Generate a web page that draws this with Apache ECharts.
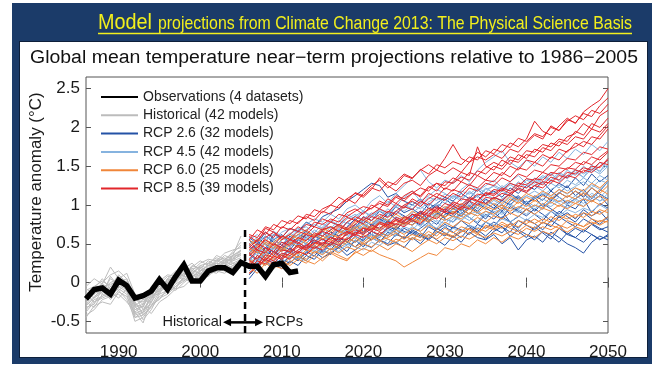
<!DOCTYPE html>
<html><head><meta charset="utf-8">
<script src="https://cdn.jsdelivr.net/npm/echarts@6/dist/echarts.min.js"></script>
<style>
html,body{margin:0;padding:0;background:#fff;}
#wrap{position:relative;width:655px;height:366px;overflow:hidden;background:#fff;}
#navy{position:absolute;left:12px;top:3px;width:640px;height:361px;background:#1b3b69;}
#panel{position:absolute;left:19px;top:41px;width:627px;height:315px;background:#fff;border:1px solid #0d1f3a;}
#c{position:absolute;left:0;top:0;width:655px;height:366px;}
</style>
</head><body>
<div id="wrap"><div id="navy"></div><div id="panel"></div><div id="c"></div></div>
<script>
// ---------- DATA ----------
const histYears = [1986,1987,1988,1989,1990,1991,1992,1993,1994,1995,1996,1997,1998,1999,2000,2001,2002,2003,2004,2005];
const obsYears = [1986,1987,1988,1989,1990,1991,1992,1993,1994,1995,1996,1997,1998,1999,2000,2001,2002,2003,2004,2005,2006,2007,2008,2009,2010,2011,2012];
const rcpYears = [2006,2007,2008,2009,2010,2011,2012,2013,2014,2015,2016,2017,2018,2019,2020,2021,2022,2023,2024,2025,2026,2027,2028,2029,2030,2031,2032,2033,2034,2035,2036,2037,2038,2039,2040,2041,2042,2043,2044,2045,2046,2047,2048,2049,2050];

const observations = [-0.21,-0.09,-0.07,-0.15,0.03,-0.04,-0.20,-0.17,-0.11,0.04,-0.09,0.08,0.23,0.02,0.02,0.15,0.19,0.19,0.13,0.26,0.21,0.21,0.08,0.23,0.25,0.13,0.15];

const historicalRuns = [
 [-0.22,-0.15,-0.05,-0.10,0.02,-0.08,-0.35,-0.30,-0.12,-0.05,0.02,0.05,0.12,0.08,0.15,0.22,0.20,0.28,0.30,0.35],
 [-0.30,-0.20,-0.12,0.05,-0.02,-0.10,-0.42,-0.38,-0.20,-0.08,-0.05,0.08,0.05,0.15,0.12,0.18,0.25,0.22,0.35,0.40],
 [-0.10,-0.05,0.02,-0.05,0.10,0.00,-0.25,-0.40,-0.25,-0.10,0.05,0.00,0.10,0.18,0.20,0.15,0.28,0.32,0.25,0.30],
 [-0.38,-0.25,-0.20,-0.15,-0.08,-0.15,-0.50,-0.45,-0.30,-0.18,-0.12,-0.02,0.05,0.02,0.10,0.12,0.18,0.15,0.22,0.25],
 [-0.05,0.05,-0.02,0.20,0.05,-0.02,-0.20,-0.28,-0.05,0.02,0.10,0.08,0.20,0.15,0.25,0.30,0.28,0.38,0.42,0.45],
 [-0.25,-0.32,-0.15,-0.20,-0.05,-0.12,-0.30,-0.48,-0.35,-0.15,-0.10,-0.05,0.02,0.10,0.05,0.15,0.12,0.20,0.25,0.20],
 [-0.15,-0.10,-0.08,0.00,0.05,0.12,-0.15,-0.22,-0.18,0.00,-0.02,0.12,0.15,0.10,0.22,0.25,0.32,0.28,0.40,0.52],
 [-0.45,-0.30,-0.25,-0.28,-0.12,-0.18,-0.40,-0.35,-0.28,-0.22,-0.08,-0.10,0.00,0.08,0.12,0.08,0.20,0.25,0.18,0.28],
 [-0.12,-0.20,-0.05,-0.02,0.00,0.05,-0.28,-0.32,-0.10,-0.12,0.05,0.15,0.08,0.22,0.18,0.28,0.22,0.30,0.35,0.60],
 [-0.28,-0.18,-0.10,-0.12,-0.20,-0.08,-0.38,-0.52,-0.22,-0.05,0.00,0.02,0.18,0.12,0.08,0.20,0.30,0.25,0.32,0.38],
 [-0.18,-0.08,0.05,-0.08,0.02,-0.05,-0.22,-0.25,-0.15,-0.02,0.08,0.05,0.10,0.20,0.28,0.22,0.25,0.35,0.30,0.42],
 [-0.35,-0.22,-0.18,-0.05,-0.10,-0.22,-0.45,-0.42,-0.32,-0.20,-0.15,-0.05,0.05,0.00,0.15,0.18,0.15,0.22,0.28,0.32],
 [-0.20,-0.12,-0.15,0.08,-0.05,-0.02,-0.32,-0.28,-0.18,-0.10,0.00,0.10,0.02,0.12,0.20,0.15,0.22,0.30,0.28,0.38],
 [-0.42,-0.35,-0.22,-0.18,-0.15,-0.25,-0.38,-0.30,-0.40,-0.25,-0.18,-0.08,-0.05,0.05,0.00,0.10,0.15,0.12,0.20,0.22],
 [-0.08,-0.15,0.00,0.10,0.15,0.05,-0.18,-0.35,-0.20,-0.08,0.02,0.12,0.18,0.25,0.15,0.22,0.35,0.30,0.38,0.48],
 [-0.32,-0.28,-0.08,-0.22,-0.10,-0.02,-0.25,-0.42,-0.30,-0.12,-0.05,-0.08,0.08,0.05,0.18,0.12,0.18,0.28,0.22,0.30],
 [-0.15,-0.25,-0.18,-0.12,0.08,-0.10,-0.45,-0.38,-0.15,-0.15,0.05,0.02,0.12,0.18,0.10,0.25,0.20,0.26,0.35,0.42],
 [-0.26,-0.10,-0.02,-0.08,-0.02,0.02,-0.30,-0.22,-0.26,-0.02,-0.06,0.06,0.14,0.12,0.22,0.18,0.28,0.24,0.34,0.36]
];

const rcp26Runs = [
 [0.45,0.55,0.40,0.62,0.58, 0.70,0.66,0.78,0.72,0.85, 0.90,0.95,1.05,1.12,1.20, 1.28,1.25,1.10,1.15,1.05, 1.00,1.08,0.95,1.02,1.10, 1.05,1.15,1.08,1.20,1.12, 1.18,1.10,1.22,1.15,1.25, 1.20,1.30,1.18,1.28,1.22, 1.35,1.25,1.40,1.30,1.38],
 [0.15,0.25,0.10,0.22,0.30, 0.25,0.35,0.28,0.40,0.32, 0.38,0.45,0.35,0.42,0.50, 0.45,0.55,0.48,0.52,0.45, 0.58,0.50,0.62,0.55,0.48, 0.60,0.52,0.65,0.58,0.55, 0.62,0.50,0.58,0.42,0.55, 0.60,0.52,0.65,0.58,0.50, 0.45,0.38,0.52,0.60,0.55],
 [0.30,0.22,0.40,0.35,0.45, 0.38,0.50,0.42,0.55,0.48, 0.60,0.52,0.65,0.70,0.62, 0.75,0.68,0.80,0.72,0.85, 0.78,0.90,0.82,0.75,0.88, 0.92,0.85,0.98,0.90,0.82, 0.95,1.00,0.88,0.96,1.05, 0.92,1.02,0.95,0.88,1.00, 0.95,1.08,0.90,1.02,0.96],
 [0.55,0.42,0.50,0.38,0.48, 0.60,0.52,0.45,0.58,0.65, 0.55,0.68,0.62,0.75,0.66, 0.72,0.82,0.76,0.68,0.80, 0.88,0.80,0.92,1.00,0.90, 0.85,0.95,0.88,1.02,0.96, 0.90,0.82,0.98,0.92,0.86, 0.95,0.88,0.80,0.92,0.85, 0.78,0.90,0.82,0.75,0.85],
 [0.20,0.35,0.28,0.18,0.32, 0.42,0.30,0.38,0.48,0.40, 0.50,0.45,0.58,0.52,0.60, 0.55,0.65,0.60,0.72,0.66, 0.62,0.70,0.78,0.68,0.75, 0.70,0.80,0.72,0.65,0.78, 0.72,0.85,0.78,0.70,0.82, 0.76,0.68,0.80,0.74,0.62, 0.70,0.65,0.75,0.68,0.72],
 [0.38,0.48,0.60,0.52,0.42, 0.55,0.62,0.58,0.50,0.68, 0.72,0.65,0.78,0.70,0.85, 0.80,0.92,0.85,0.98,0.90, 0.95,0.88,1.02,0.96,1.08, 1.00,0.92,1.05,1.12,1.02, 1.10,1.05,1.15,1.08,1.00, 1.12,1.06,1.18,1.10,1.02, 1.08,1.15,1.05,1.12,1.00],
 [0.10,0.20,0.30,0.25,0.18, 0.28,0.22,0.35,0.30,0.42, 0.36,0.48,0.40,0.55,0.46, 0.58,0.52,0.65,0.60,0.70, 0.64,0.58,0.72,0.66,0.60, 0.72,0.68,0.62,0.75,0.70, 0.78,0.72,0.65,0.80,0.74, 0.68,0.78,0.72,0.85,0.78, 0.72,0.82,0.76,0.70,0.65],
 [0.48,0.38,0.45,0.55,0.62, 0.50,0.58,0.66,0.60,0.55, 0.65,0.60,0.72,0.82,0.75, 0.68,0.78,0.90,0.82,0.75, 0.85,0.92,0.80,0.88,0.95, 0.88,0.98,1.05,0.95,1.08, 1.00,0.92,1.05,1.12,1.02, 1.10,0.98,1.05,1.15,1.25, 1.12,1.20,1.08,1.18,1.30],
 [0.28,0.40,0.32,0.45,0.52, 0.46,0.55,0.62,0.52,0.60, 0.68,0.75,0.66,0.72,0.80, 0.74,0.85,0.78,0.92,0.86, 0.80,0.74,0.85,0.92,0.82, 0.78,0.90,0.84,0.76,0.88, 0.82,0.92,0.78,0.85,0.95, 0.88,0.80,0.92,0.84,0.90, 0.82,0.94,0.86,0.92,0.80],
 [0.58,0.50,0.65,0.56,0.48, 0.42,0.55,0.50,0.62,0.56, 0.48,0.58,0.52,0.64,0.70, 0.62,0.58,0.70,0.65,0.56, 0.68,0.62,0.56,0.70,0.64, 0.58,0.66,0.74,0.68,0.60, 0.70,0.64,0.76,0.66,0.58, 0.72,0.64,0.56,0.70,0.62, 0.58,0.68,0.62,0.55,0.62],
 [0.05,0.18,0.12,0.28,0.22, 0.35,0.28,0.40,0.34,0.48, 0.42,0.55,0.48,0.60,0.54, 0.66,0.60,0.72,0.68,0.78, 0.74,0.85,0.78,0.90,0.84, 0.96,0.88,1.00,0.92,1.02, 0.96,1.06,1.00,1.10,1.02, 1.08,1.14,1.06,1.16,1.10, 1.18,1.10,1.22,1.14,1.08],
 [0.36,0.28,0.45,0.40,0.35, 0.44,0.38,0.50,0.45,0.38, 0.50,0.58,0.52,0.46,0.56, 0.62,0.55,0.50,0.62,0.58, 0.66,0.60,0.55,0.64,0.72, 0.65,0.58,0.70,0.64,0.56, 0.66,0.72,0.60,0.68,0.62, 0.55,0.66,0.60,0.52,0.64, 0.58,0.52,0.62,0.56,0.60]
];

const rcp45Runs = [
 [0.35,0.45,0.38,0.50,0.58, 0.52,0.62,0.55,0.68,0.60, 0.72,0.66,0.78,0.70,0.82, 0.90,0.85,0.95,0.88,1.00, 0.95,1.05,0.98,1.10,1.02, 1.12,1.05,1.18,1.10,1.22, 1.15,1.25,1.18,1.30,1.22, 1.35,1.28,1.40,1.32,1.45, 1.38,1.50,1.42,1.55,1.48],
 [0.25,0.18,0.30,0.38,0.32, 0.42,0.36,0.45,0.40,0.50, 0.46,0.55,0.48,0.60,0.52, 0.62,0.58,0.68,0.64,0.72, 0.68,0.78,0.72,0.80,0.76, 0.85,0.80,0.88,0.92,0.86, 0.95,0.90,1.00,0.94,1.05, 0.98,1.08,1.02,1.10,1.04, 1.12,1.06,1.15,1.10,1.20],
 [0.50,0.58,0.48,0.42,0.55, 0.62,0.70,0.65,0.58,0.72, 0.80,0.74,0.88,0.82,0.92, 0.86,0.96,1.05,0.98,1.10, 1.18,1.05,1.12,1.20,1.15, 1.08,1.20,1.28,1.18,1.25, 1.32,1.22,1.30,1.38,1.28, 1.25,1.35,1.42,1.30,1.38, 1.45,1.35,1.52,1.42,1.60],
 [0.15,0.28,0.22,0.32,0.25, 0.35,0.30,0.40,0.48,0.42, 0.38,0.50,0.45,0.55,0.48, 0.58,0.52,0.62,0.70,0.64, 0.72,0.66,0.76,0.70,0.82, 0.78,0.86,0.80,0.90,0.85, 0.92,0.88,0.96,0.90,1.00, 0.95,1.02,0.98,1.06,1.00, 1.08,1.02,1.12,1.05,1.15],
 [0.42,0.35,0.52,0.45,0.40, 0.48,0.56,0.50,0.62,0.55, 0.60,0.68,0.62,0.72,0.78, 0.70,0.80,0.75,0.85,0.80, 0.88,0.82,0.92,0.86,0.96, 0.90,1.00,0.94,1.04,0.98, 1.06,1.00,1.10,1.04,1.12, 1.08,1.16,1.10,1.20,1.14, 1.22,1.16,1.26,1.20,1.30],
 [0.40,0.52,0.60,0.55,0.65, 0.70,0.64,0.75,0.82,0.78, 0.88,0.82,0.95,1.00,0.92, 1.05,1.12,1.02,1.15,1.25, 1.35,1.45,1.30,1.22,1.32, 1.28,1.38,1.30,1.45,1.55, 1.62,1.70,1.55,1.48,1.58, 1.50,1.62,1.55,1.68,1.60, 1.72,1.65,1.78,1.70,1.82],
 [0.28,0.40,0.35,0.28,0.38, 0.30,0.42,0.50,0.45,0.38, 0.52,0.48,0.58,0.65,0.56, 0.62,0.72,0.66,0.60,0.74, 0.80,0.72,0.85,0.78,0.70, 0.82,0.90,0.84,0.78,0.92, 0.86,0.95,1.02,0.94,0.88, 1.00,0.94,1.08,1.02,0.96, 1.06,0.98,1.12,1.05,1.10],
 [0.32,0.25,0.42,0.48,0.40, 0.55,0.48,0.58,0.52,0.65, 0.58,0.70,0.64,0.76,0.70, 0.80,0.74,0.86,0.92,0.84, 0.90,0.98,0.92,1.02,0.96, 1.05,0.98,1.10,1.02,1.14, 1.08,1.18,1.12,1.22,1.16, 1.25,1.18,1.28,1.22,1.32, 1.26,1.35,1.28,1.38,1.32],
 [0.46,0.40,0.55,0.62,0.56, 0.64,0.58,0.68,0.75,0.70, 0.78,0.72,0.82,0.88,0.80, 0.86,0.92,0.88,0.98,0.92, 1.00,0.95,1.04,1.10,1.02, 1.12,1.08,1.16,1.10,1.20, 1.24,1.18,1.26,1.20,1.32, 1.28,1.36,1.30,1.40,1.34, 1.42,1.36,1.46,1.40,1.50],
 [0.20,0.32,0.26,0.20,0.30, 0.38,0.32,0.28,0.42,0.36, 0.44,0.40,0.50,0.46,0.42, 0.52,0.48,0.56,0.50,0.60, 0.56,0.64,0.60,0.66,0.62, 0.70,0.66,0.74,0.70,0.78, 0.74,0.82,0.78,0.86,0.80, 0.88,0.84,0.92,0.86,0.94, 0.90,0.96,0.92,1.00,0.94],
 [0.38,0.30,0.36,0.46,0.52, 0.46,0.54,0.60,0.55,0.50, 0.62,0.68,0.60,0.66,0.74, 0.68,0.76,0.82,0.74,0.80, 0.86,0.80,0.90,0.84,0.92, 0.98,0.92,1.02,0.96,1.06, 1.00,1.08,1.14,1.06,1.12, 1.18,1.12,1.20,1.26,1.18, 1.24,1.30,1.22,1.32,1.28],
 [0.55,0.62,0.52,0.66,0.60, 0.58,0.68,0.72,0.64,0.76, 0.70,0.80,0.76,0.86,0.92, 0.84,0.94,0.90,1.00,0.96, 1.04,1.00,1.10,1.06,1.14, 1.10,1.18,1.14,1.22,1.16, 1.26,1.20,1.28,1.24,1.34, 1.30,1.38,1.32,1.42,1.36, 1.46,1.40,1.48,1.44,1.52]
];

const rcp60Runs = [
 [0.20,0.12,0.25,0.18,0.28, 0.22,0.30,0.25,0.35,0.28, 0.38,0.32,0.28,0.40,0.35, 0.42,0.36,0.32,0.28,0.20, 0.26,0.32,0.38,0.35,0.45, 0.42,0.50,0.46,0.55,0.50, 0.58,0.52,0.60,0.56,0.62, 0.58,0.66,0.62,0.70,0.65, 0.72,0.68,0.75,0.80,0.78],
 [0.35,0.42,0.30,0.38,0.45, 0.40,0.48,0.42,0.52,0.46, 0.55,0.50,0.58,0.52,0.62, 0.56,0.65,0.60,0.68,0.62, 0.70,0.66,0.74,0.68,0.78, 0.72,0.80,0.76,0.84,0.78, 0.86,0.82,0.90,0.85,0.94, 0.88,0.96,0.92,1.00,0.95, 1.02,0.98,1.06,1.00,1.08],
 [0.45,0.38,0.52,0.48,0.40, 0.50,0.58,0.52,0.46,0.60, 0.55,0.64,0.70,0.62,0.72, 0.68,0.76,0.70,0.80,0.74, 0.82,0.78,0.86,0.92,0.85, 0.90,0.96,0.88,1.00,0.94, 1.02,0.96,1.08,1.02,1.10, 1.05,1.12,1.08,1.16,1.10, 1.18,1.12,1.22,1.15,1.25],
 [0.25,0.32,0.40,0.30,0.36, 0.32,0.40,0.36,0.44,0.50, 0.42,0.48,0.54,0.46,0.52, 0.60,0.54,0.58,0.64,0.56, 0.62,0.58,0.66,0.60,0.70, 0.64,0.72,0.68,0.62,0.74, 0.70,0.78,0.72,0.80,0.76, 0.82,0.76,0.85,0.80,0.88, 0.84,0.90,0.86,0.94,0.90],
 [0.55,0.48,0.40,0.52,0.60, 0.55,0.62,0.68,0.60,0.70, 0.65,0.74,0.68,0.78,0.82, 0.76,0.85,0.80,0.88,0.82, 0.92,0.86,0.95,0.90,0.98, 0.94,1.02,0.96,1.05,1.00, 1.08,1.02,1.12,1.06,1.15, 1.10,1.18,1.12,1.20,1.15, 1.22,1.18,1.28,1.22,1.32],
 [0.18,0.28,0.22,0.35,0.30, 0.38,0.32,0.42,0.38,0.45, 0.50,0.44,0.52,0.58,0.50, 0.55,0.62,0.56,0.52,0.60, 0.55,0.64,0.58,0.66,0.62, 0.58,0.65,0.70,0.64,0.72, 0.68,0.75,0.70,0.66,0.74, 0.70,0.78,0.74,0.70,0.80, 0.76,0.72,0.82,0.78,0.85],
 [0.38,0.46,0.55,0.50,0.42, 0.52,0.46,0.55,0.62,0.56, 0.62,0.58,0.66,0.72,0.65, 0.72,0.68,0.78,0.72,0.84, 0.78,0.86,0.80,0.88,0.84, 0.92,0.86,0.95,0.90,0.98, 0.94,1.00,0.95,1.04,0.98, 1.06,1.00,1.10,1.04,1.12, 1.08,1.16,1.10,1.20,1.14],
 [0.30,0.22,0.35,0.28,0.22, 0.32,0.38,0.30,0.40,0.36, 0.44,0.38,0.46,0.42,0.50, 0.46,0.54,0.48,0.56,0.52, 0.58,0.54,0.62,0.56,0.64, 0.60,0.68,0.62,0.70,0.66, 0.74,0.70,0.76,0.72,0.80, 0.76,0.82,0.78,0.86,0.82, 0.88,0.84,0.92,0.88,0.95],
 [0.48,0.56,0.50,0.44,0.56, 0.62,0.56,0.64,0.58,0.66, 0.72,0.66,0.62,0.70,0.76, 0.70,0.78,0.74,0.70,0.78, 0.74,0.82,0.78,0.85,0.80, 0.86,0.82,0.90,0.86,0.92, 0.88,0.96,0.92,0.98,0.94, 1.00,0.96,1.04,0.98,1.06, 1.02,1.08,1.04,1.12,1.06],
 [0.12,0.20,0.28,0.22,0.18, 0.26,0.34,0.28,0.24,0.32, 0.40,0.35,0.30,0.38,0.44, 0.40,0.48,0.42,0.50,0.46, 0.40,0.48,0.55,0.50,0.58, 0.54,0.60,0.56,0.62,0.58, 0.64,0.60,0.66,0.62,0.70, 0.66,0.72,0.68,0.74,0.70, 0.76,0.72,0.78,0.74,0.80]
];

const rcp85Runs = [
 [0.45,0.55,0.65,0.58,0.72, 0.68,0.78,0.85,0.80,0.92, 0.88,1.00,1.08,1.02,1.15, 1.25,1.32,1.22,1.30,1.40, 1.35,1.45,1.52,1.45,1.60, 1.78,1.60,1.55,1.68,1.62, 1.72,1.68,1.80,1.75,1.85, 2.08,1.95,1.90,2.02,2.12, 2.05,2.20,2.28,2.35,2.50],
 [0.30,0.42,0.38,0.50,0.45, 0.55,0.50,0.62,0.58,0.68, 0.72,0.66,0.78,0.85,0.80, 0.88,0.95,0.90,1.02,0.96, 1.08,1.02,1.15,1.10,1.22, 1.18,1.30,1.25,1.38,1.32, 1.42,1.38,1.50,1.45,1.58, 1.55,1.65,1.60,1.72,1.68, 1.80,1.75,1.88,1.85,1.98],
 [0.20,0.35,0.28,0.40,0.32, 0.45,0.38,0.48,0.55,0.50, 0.58,0.52,0.65,0.60,0.70, 0.66,0.76,0.72,0.82,0.78, 0.88,0.82,0.92,0.98,0.92, 1.02,0.96,1.08,1.05,1.15, 1.12,1.20,1.15,1.25,1.22, 1.30,1.26,1.36,1.32,1.42, 1.40,1.48,1.45,1.55,1.52],
 [0.50,0.42,0.58,0.65,0.55, 0.62,0.72,0.66,0.78,0.75, 0.82,0.78,0.90,0.95,0.88, 1.00,0.95,1.08,1.02,1.12, 1.18,1.10,1.22,1.28,1.20, 1.30,1.42,1.38,1.75,1.50, 1.45,1.58,1.52,1.65,1.60, 1.72,1.68,1.80,1.76,1.88, 1.92,2.05,1.98,2.15,2.22],
 [0.25,0.18,0.32,0.28,0.38, 0.35,0.42,0.48,0.44,0.52, 0.48,0.58,0.55,0.65,0.62, 0.70,0.66,0.75,0.80,0.76, 0.82,0.90,0.86,0.95,0.90, 0.98,0.94,1.05,1.00,1.10, 1.08,1.15,1.12,1.22,1.18, 1.25,1.30,1.28,1.38,1.35, 1.45,1.42,1.50,1.48,1.60],
 [0.55,0.68,0.62,0.75,0.70, 0.80,0.76,0.88,0.85,0.95, 1.00,0.96,1.08,1.15,1.10, 1.20,1.35,1.25,1.18,1.28, 1.32,1.25,1.38,1.45,1.40, 1.48,1.42,1.55,1.62,1.58, 1.65,1.60,1.72,1.68,1.80, 1.90,1.85,2.02,1.96,2.08, 2.15,2.10,2.22,2.18,2.30],
 [0.38,0.30,0.45,0.40,0.52, 0.48,0.58,0.54,0.64,0.60, 0.68,0.75,0.70,0.80,0.76, 0.85,0.82,0.92,0.88,0.98, 0.94,1.05,1.00,1.10,1.06, 1.15,1.10,1.22,1.18,1.28, 1.25,1.35,1.30,1.40,1.36, 1.45,1.42,1.52,1.50,1.60, 1.58,1.68,1.65,1.75,1.72],
 [0.42,0.50,0.45,0.35,0.48, 0.56,0.52,0.45,0.60,0.66, 0.62,0.72,0.68,0.75,0.84, 0.80,0.88,0.84,0.92,1.00, 1.05,0.98,1.08,1.15,1.10, 1.20,1.16,1.26,1.22,1.32, 1.30,1.42,1.36,1.48,1.45, 1.55,1.50,1.62,1.58,1.70, 1.75,1.82,1.78,1.90,2.02],
 [0.12,0.22,0.30,0.25,0.35, 0.30,0.40,0.36,0.46,0.42, 0.52,0.48,0.56,0.62,0.58, 0.66,0.62,0.70,0.76,0.72, 0.80,0.76,0.86,0.82,0.92, 0.88,0.98,0.95,1.05,1.02, 1.10,1.06,1.15,1.20,1.16, 1.25,1.22,1.32,1.28,1.38, 1.35,1.45,1.42,1.50,1.58],
 [0.60,0.52,0.70,0.65,0.58, 0.70,0.66,0.75,0.72,0.82, 0.78,0.88,0.85,0.92,0.98, 0.95,1.05,1.00,1.12,1.08, 1.15,1.22,1.18,1.28,1.25, 1.35,1.30,1.42,1.38,1.48, 1.55,1.50,1.62,1.58,1.70, 1.68,1.78,1.75,1.85,1.82, 1.95,1.90,2.05,2.00,2.12],
 [0.35,0.45,0.55,0.48,0.60, 0.56,0.66,0.62,0.72,0.68, 0.78,0.74,0.84,0.80,0.90, 0.96,1.02,0.98,1.10,1.05, 1.15,1.12,1.24,1.18,1.30, 1.28,1.36,1.32,1.44,1.40, 1.50,1.46,1.58,1.55,1.65, 1.62,1.74,1.70,1.82,1.78, 1.88,1.85,1.98,1.94,2.05],
 [0.28,0.22,0.36,0.32,0.42, 0.40,0.48,0.44,0.52,0.48, 0.58,0.55,0.62,0.68,0.64, 0.74,0.70,0.78,0.75,0.85, 0.82,0.92,0.88,0.96,0.94, 1.04,1.00,1.10,1.06,1.16, 1.14,1.22,1.18,1.28,1.26, 1.34,1.32,1.42,1.40,1.48, 1.46,1.56,1.52,1.62,1.70],
 [0.62,0.58,0.72,0.68,0.80, 0.76,0.86,0.82,0.94,0.90, 1.00,1.10,1.04,1.16,1.12, 1.22,1.18,1.30,1.26,1.38, 1.34,1.46,1.40,1.52,1.48, 1.56,1.52,1.62,1.58,1.70, 1.66,1.78,1.74,1.86,1.82, 1.92,1.88,2.00,1.96,2.10, 2.06,2.18,2.14,2.28,2.38],
 [0.18,0.28,0.24,0.34,0.30, 0.38,0.46,0.42,0.50,0.56, 0.52,0.60,0.66,0.62,0.70, 0.68,0.78,0.74,0.84,0.80, 0.88,0.86,0.96,0.92,1.02, 0.98,1.08,1.06,1.14,1.12, 1.20,1.18,1.28,1.24,1.34, 1.32,1.42,1.38,1.48,1.46, 1.55,1.52,1.62,1.58,1.68]
];

const legendNames = ['Observations (4 datasets)','Historical (42 models)','RCP 2.6 (32 models)','RCP 4.5 (42 models)','RCP 6.0 (25 models)','RCP 8.5 (39 models)'];
const xTicks = [1990,2000,2010,2020,2030,2040,2050];
const yTicks = [-0.5,0,0.5,1,1.5,2,2.5];
const dividerYear = 2005.5;
const dividerSpan = [-0.65, 0.74];
const headline = ['Model', 'projections from Climate Change 2013: The Physical Science Basis'];
const subtitle = 'Global mean temperature near\u2212term projections relative to 1986\u22122005';
const yName = 'Temperature anomaly (\u00b0C)';

// ---------- STYLE ----------
const FAM = '"Liberation Sans", Arial, Helvetica, sans-serif';
const colors = {obs:'#000000', hist:'#bcbcbc', r26:'#2452a6', r45:'#86b3df', r60:'#f0863a', r85:'#e2262b'};
const YELLOW = '#f2ef1c';

function runSeries(name, years, runs, color, z) {
  return runs.map(r => ({
    name, type:'line', symbol:'none', showSymbol:false, silent:true, z,
    lineStyle:{color, width:1}, itemStyle:{color},
    data: r.map((v,i) => [years[i], v])
  }));
}
function fitScale(text, size, target) {
  const ctx = document.createElement('canvas').getContext('2d');
  ctx.font = size + 'px "Liberation Sans", Arial, sans-serif';
  return target / ctx.measureText(text).width;
}

const series = [].concat(
  runSeries(legendNames[1], histYears, historicalRuns, colors.hist, 2),
  runSeries(legendNames[2], rcpYears, rcp26Runs, colors.r26, 3),
  runSeries(legendNames[3], rcpYears, rcp45Runs, colors.r45, 3),
  runSeries(legendNames[4], rcpYears, rcp60Runs, colors.r60, 3),
  runSeries(legendNames[5], rcpYears, rcp85Runs, colors.r85, 3),
  [{
    name: legendNames[0], type:'line', symbol:'none', showSymbol:false, silent:true, z:6,
    lineStyle:{color:colors.obs, width:5.5, join:'miter'}, itemStyle:{color:colors.obs},
    data: observations.map((v,i) => [obsYears[i], v])
  },{
    name:'divider', type:'line', symbol:'none', silent:true, z:7,
    lineStyle:{color:'#000', width:2.5, type:[7,5]},
    data: dividerSpan.map(v => [dividerYear, v])
  }]
);

const chart = echarts.init(document.getElementById('c'), null, {renderer:'canvas'});
const tickStyle = {inside:true, length:5, lineStyle:{color:'#555'}};
chart.setOption({
  animation:false,
  backgroundColor:'transparent',
  textStyle:{fontFamily:FAM},
  legend:{
    data:legendNames, orient:'vertical', left:100, top:90, padding:0,
    itemWidth:37, itemHeight:14, itemGap:4.3, selectedMode:false,
    itemStyle:{opacity:0, borderWidth:0},
    textStyle:{fontFamily:FAM, fontSize:14, color:'#222'}
  },
  grid:{left:86, top:77, right:47, bottom:33, show:true, borderColor:'#555', borderWidth:1, backgroundColor:'transparent'},
  xAxis:[{
    type:'value', min:1986, max:2050, position:'bottom',
    splitLine:{show:false}, axisLine:{show:false},
    axisTick:Object.assign({customValues:xTicks}, tickStyle),
    axisLabel:{customValues:xTicks, formatter:v => String(v), fontSize:17, color:'#1a1a1a', margin:11, fontFamily:FAM}
  },{
    type:'value', min:1986, max:2050, position:'top',
    splitLine:{show:false}, axisLine:{show:false},
    axisTick:Object.assign({customValues:xTicks}, tickStyle),
    axisLabel:{show:false, customValues:xTicks}
  }],
  yAxis:[{
    type:'value', min:-0.65, max:2.65, position:'left',
    splitLine:{show:false}, axisLine:{show:false},
    axisTick:Object.assign({customValues:yTicks}, tickStyle),
    axisLabel:{customValues:yTicks, formatter:v => String(v), fontSize:17, color:'#1a1a1a', margin:6, fontFamily:FAM}
  },{
    type:'value', min:-0.65, max:2.65, position:'right',
    splitLine:{show:false}, axisLine:{show:false},
    axisTick:Object.assign({customValues:yTicks}, tickStyle),
    axisLabel:{show:false, customValues:yTicks}
  }],
  series
});

// annotations anchored to the divider
const p = chart.convertToPixel({xAxisIndex:0, yAxisIndex:0}, [dividerYear, -0.5]);
const ay = p[1] + 1, ax = p[0];
chart.setOption({
  graphic:[
    {type:'text', x:98, y:22.5, scaleX:fitScale(headline[0], 22, 54), silent:true,
     style:{text:headline[0], fontSize:22, fontFamily:FAM, fill:YELLOW, verticalAlign:'middle'}},
    {type:'text', x:158, y:23.5, scaleX:fitScale(headline[1], 18.5, 474), silent:true,
     style:{text:headline[1], fontSize:18.5, fontFamily:FAM, fill:YELLOW, verticalAlign:'middle'}},
    {type:'line', shape:{x1:98, y1:33.5, x2:632, y2:33.5}, style:{stroke:YELLOW, lineWidth:1.5}, silent:true},
    {type:'text', x:30, y:58, scaleX:fitScale(subtitle, 18, 608), silent:true,
     style:{text:subtitle, fontSize:18, fontFamily:FAM, fill:'#111', verticalAlign:'middle'}},
    {type:'text', x:36, y:192, rotation:Math.PI/2, silent:true,
     style:{text:yName, fontSize:17, fontFamily:FAM, fill:'#1a1a1a', align:'center', verticalAlign:'middle'}},
    {type:'text', x:ax-23, y:ay, style:{text:'Historical', fontSize:14.5, fontFamily:FAM, fill:'#1a1a1a', align:'right', verticalAlign:'middle'}, z:10},
    {type:'text', x:ax+20, y:ay, style:{text:'RCPs', fontSize:14.5, fontFamily:FAM, fill:'#1a1a1a', align:'left', verticalAlign:'middle'}, z:10},
    {type:'line', shape:{x1:ax-17, y1:ay, x2:ax+13, y2:ay}, style:{stroke:'#000', lineWidth:2.5}, z:10},
    {type:'polygon', shape:{points:[[ax-22,ay],[ax-14,ay-4],[ax-14,ay+4]]}, style:{fill:'#000'}, z:10},
    {type:'polygon', shape:{points:[[ax+18,ay],[ax+10,ay-4],[ax+10,ay+4]]}, style:{fill:'#000'}, z:10}
  ]
});
</script>
</body></html>
